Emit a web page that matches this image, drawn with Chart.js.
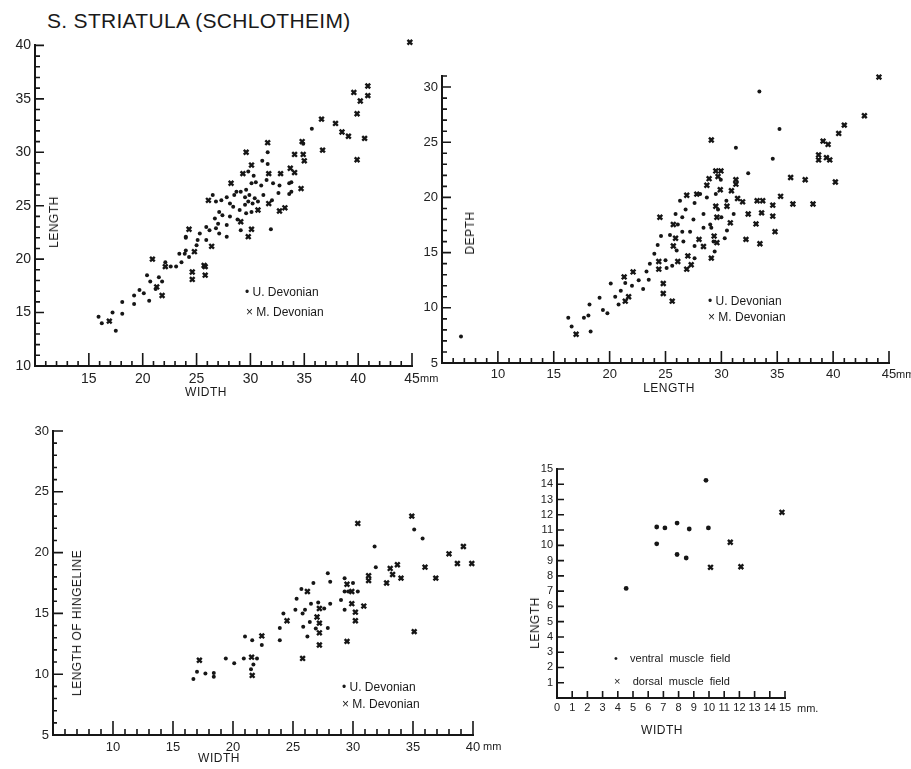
<!DOCTYPE html>
<html>
<head>
<meta charset="utf-8">
<script src="https://cdn.jsdelivr.net/npm/chart.js@4.4.1/dist/chart.umd.min.js"></script>
<style>
  html, body { margin: 0; padding: 0; background: #fff; overflow: hidden; }
  body { width: 911px; height: 769px; position: relative; font-family: "Liberation Sans", Arial, sans-serif; color: #1a1a1a; }
  canvas { position: absolute; }
  .lbl { position: absolute; transform: translate(-50%, -50%); font-size: 12px; white-space: nowrap; letter-spacing: 0.5px; }
  .rot { transform: translate(-50%, -50%) rotate(-90deg); }
  .leg { position: absolute; transform: translateY(-50%); font-size: 12px; white-space: nowrap; }
  .mm { position: absolute; transform: translateY(-50%); font-size: 11px; white-space: nowrap; }
  #title { position: absolute; left: 47px; top: 9px; font-size: 21px; letter-spacing: 0.3px; }
</style>
</head>
<body>
<div id="title">S. STRIATULA (SCHLOTHEIM)</div>

<canvas id="c1" width="447" height="373" style="left:-5px;top:33px"></canvas>
<canvas id="c2" width="509" height="339" style="left:402px;top:64px"></canvas>
<canvas id="c3" width="490" height="356" style="left:13px;top:419px"></canvas>
<canvas id="c4" width="298" height="281" style="left:517px;top:457px"></canvas>

<div class="lbl rot" style="left:54px;top:222px">LENGTH</div>
<div class="lbl" style="left:206px;top:392px">WIDTH</div>
<div class="mm" style="left:420px;top:378px">mm</div>
<div class="leg" style="left:245px;top:292px">•&nbsp;U. Devonian</div>
<div class="leg" style="left:246px;top:312px">×&nbsp;M. Devonian</div>

<div class="lbl rot" style="left:470px;top:233px">DEPTH</div>
<div class="lbl" style="left:669px;top:388px">LENGTH</div>
<div class="mm" style="left:896px;top:374px">mm</div>
<div class="leg" style="left:708px;top:301px">•&nbsp;U. Devonian</div>
<div class="leg" style="left:708px;top:317px">×&nbsp;M. Devonian</div>

<div class="lbl rot" style="left:77px;top:623px">LENGTH OF HINGELINE</div>
<div class="lbl" style="left:219px;top:758px">WIDTH</div>
<div class="mm" style="left:483px;top:746px">mm</div>
<div class="leg" style="left:342px;top:687px">•&nbsp;U. Devonian</div>
<div class="leg" style="left:342px;top:704px">×&nbsp;M. Devonian</div>

<div class="lbl rot" style="left:535px;top:623px">LENGTH</div>
<div class="lbl" style="left:662px;top:730px">WIDTH</div>
<div class="mm" style="left:797px;top:708px">mm.</div>
<div class="leg" style="left:614px;top:658px;font-size:11px">•&nbsp;&nbsp;&nbsp;&nbsp;ventral&nbsp;&nbsp;muscle&nbsp;&nbsp;field</div>
<div class="leg" style="left:614px;top:681px;font-size:11px">×&nbsp;&nbsp;&nbsp;&nbsp;dorsal&nbsp;&nbsp;muscle&nbsp;&nbsp;field</div>

<script>
// length vs width, [width, length]
var widthLengthUpper = [
  [15.9,14.6],[16.2,14.0],[17.2,15.0],[17.5,13.3],[18.1,16.0],[18.1,14.9],[19.2,16.6],[19.2,15.8],
  [19.7,17.1],[20.1,16.8],[20.6,16.1],[20.4,18.5],[20.7,17.9],[21.2,17.2],[21.5,18.3],[21.8,17.9],
  [22.1,19.7],[22.6,19.3],[23.1,19.3],[23.4,20.5],[23.6,19.7],[24.0,20.8],[24.0,22.0],
  [31.6,30.0],[31.1,29.2],[31.6,28.9],[34.9,30.8],[29.8,28.2],[30.3,27.8],[30.1,27.1],[30.5,27.2],
  [31.0,26.9],[31.5,27.4],[32.1,27.1],[32.7,26.9],[33.6,27.1],[33.8,26.3],[28.7,26.3],[29.1,26.3],
  [29.6,26.5],[28.5,26.0],[29.5,25.8],[29.9,26.0],[30.4,25.7],[29.8,25.4],[30.2,25.2],[30.7,25.4],
  [29.5,25.1],[29.0,24.6],[29.6,24.3],[30.1,24.4],[28.4,24.9],[28.1,25.2],[27.3,25.5],[26.8,25.4],
  [26.5,26.0],[27.8,25.8],[27.1,24.4],[27.4,24.1],[28.1,24.0],[26.7,23.8],[27.0,23.3],[27.8,23.2],
  [28.8,23.7],[26.8,22.9],[27.1,22.4],[27.8,22.1],[29.1,22.7],[25.9,23.0],[26.2,22.7],[25.3,22.4],
  [25.1,21.8],[25.9,21.8],[24.0,22.1],[25.0,21.3],[23.9,20.5],[24.3,20.2],[31.9,22.8],
  [35.7,32.2],[33.6,26.1],[33.8,27.2],[32.6,26.2],[32.0,25.5],[31.2,26.0]
];
var widthLengthMiddle = [
  [44.8,40.3],[39.6,35.6],[40.2,34.8],[40.9,36.2],[40.9,35.3],[39.9,33.6],[40.6,31.3],[39.9,29.3],
  [37.9,32.7],[38.5,31.9],[39.1,31.5],[36.6,33.1],[36.7,30.2],[34.8,31.0],[34.9,29.8],[35.0,29.2],
  [31.6,30.9],[29.6,30.0],[34.1,29.8],[30.1,28.8],[29.3,28.0],[31.7,28.0],[32.8,28.0],[33.7,28.5],
  [34.1,28.1],[28.2,27.1],[34.7,26.6],[26.1,25.5],[31.7,25.2],[32.7,24.5],[33.2,24.8],[30.7,24.6],
  [29.1,23.5],[30.1,22.8],[29.8,22.1],[24.3,22.8],[26.4,21.2],[24.8,20.7],[25.7,19.4],
  [16.9,14.2],[20.9,20.0],[21.8,16.6],[22.1,19.3],[24.6,18.8],[24.6,18.1],[25.8,19.3],[25.8,18.5],[21.3,17.4]
];

// depth vs length, [length, depth]
var lengthDepthUpper = [
  [33.4,29.6],[35.2,26.2],[31.3,24.5],[34.6,23.5],[32.4,22.2],[6.7,7.4],[16.3,9.1],[16.6,8.3],
  [17.7,9.1],[18.1,9.3],[18.2,10.3],[18.3,7.85],[19.4,9.8],[19.1,10.9],[20.1,12.2],[21.0,11.55],
  [20.8,10.3],[21.4,12.25],[22.6,12.5],[23.0,11.7],[23.5,12.55],[23.6,14.0],[24.0,14.9],[24.3,15.7],
  [24.6,16.5],[25.1,13.6],[25.4,16.6],[25.9,18.5],[26.1,17.55],[26.5,18.2],[26.5,16.9],[26.6,16.0],
  [26.8,18.9],[26.3,19.7],[27.2,16.9],[27.6,19.5],[27.5,18.0],[27.6,15.6],[28.1,20.3],[28.4,18.5],
  [28.7,20.0],[29.0,17.55],[28.4,17.25],[29.1,17.25],[29.5,20.3],[29.7,18.9],[30.0,18.2],[30.3,16.3],
  [30.5,17.0],[31.1,18.5],[29.4,15.1],[29.3,16.0],[29.95,21.6],[30.45,19.7],
  [25.0,14.3],[25.6,13.8],[26.0,15.2],[27.6,14.5],[23.3,13.3],[22.0,12.0],[20.5,11.0],[19.8,9.5]
];
var lengthDepthMiddle = [
  [44.1,30.9],[42.8,27.4],[41.0,26.55],[40.5,25.8],[39.1,25.1],[39.55,24.8],[38.7,23.85],[38.7,23.4],
  [39.4,23.6],[39.7,23.4],[40.2,21.4],[36.2,21.8],[37.5,21.6],[36.4,19.4],[38.2,19.4],[35.3,20.1],
  [34.6,19.3],[34.6,18.3],[34.8,16.9],[33.2,19.7],[33.7,19.7],[33.6,18.6],[33.45,15.8],[32.2,16.2],
  [32.4,18.5],[33.1,17.6],[29.1,25.2],[29.5,22.4],[29.96,22.4],[29.7,21.9],[28.9,21.7],[28.7,21.1],
  [31.3,21.6],[31.3,21.2],[30.9,20.6],[31.45,19.9],[31.9,19.6],[29.9,20.7],[29.5,19.2],[30.5,19.2],
  [30.8,17.7],[29.6,18.2],[29.35,16.5],[29.6,15.9],[29.1,14.5],[28.4,15.55],[28.0,16.2],[26.9,20.2],
  [27.8,20.3],[24.5,18.2],[25.7,17.55],[25.9,16.3],[25.7,15.6],[27.0,14.7],[26.9,13.5],[27.3,13.9],
  [26.1,14.2],[24.4,14.2],[24.4,13.5],[24.8,12.2],[24.8,11.3],[25.6,10.6],[22.1,13.25],[21.3,12.8],
  [21.7,11.0],[21.4,10.6],[17.0,7.6]
];

// hingeline vs width, [width, hingeline]
var widthHingeUpper = [
  [35.1,21.9],[35.8,21.15],[31.8,20.5],[31.9,18.8],[27.9,18.3],[28.1,17.6],[29.3,17.9],[29.6,16.8],
  [30.4,16.8],[26.7,17.5],[25.7,17.0],[25.3,16.2],[25.2,15.3],[24.2,15.0],[23.9,13.8],[23.9,12.8],
  [25.8,15.0],[26.0,15.3],[26.4,14.3],[26.5,15.8],[25.85,13.9],[26.2,13.1],[26.9,13.75],[27.1,15.9],
  [27.6,15.4],[28.1,15.8],[27.9,13.8],[29.0,16.1],[29.3,15.3],[29.3,16.8],[30.0,17.5],
  [21.0,13.1],[20.9,11.3],[19.4,11.3],[20.1,10.9],[21.6,12.8],[22.0,11.3],[21.7,10.8],[21.5,10.4],
  [22.4,12.4],[16.7,9.6],[17.0,10.2],[17.7,10.05],[18.4,10.1],[18.4,9.8]
];
var widthHingeMiddle = [
  [34.9,23.0],[30.4,22.4],[39.2,20.5],[38.0,19.9],[38.7,19.1],[39.9,19.1],[36.0,18.8],[36.9,17.9],
  [33.7,19.0],[33.1,18.7],[33.3,18.2],[34.0,17.9],[32.8,17.5],[31.3,18.1],[31.3,17.7],[30.9,15.6],
  [35.1,13.5],[29.5,17.4],[29.9,16.8],[29.9,15.8],[30.2,15.1],[30.2,14.4],[29.5,12.7],[27.2,15.4],
  [27.0,14.7],[27.2,14.2],[27.2,13.4],[27.2,12.4],[26.2,16.8],[24.5,14.4],[25.8,11.3],[22.4,13.15],
  [21.55,11.4],[21.6,9.9],[17.2,11.15]
];

// muscle field length vs width
var ventralField = [[9.8,14.26],[6.56,11.2],[7.1,11.14],[7.9,11.46],[8.7,11.07],[9.96,11.14],[6.56,10.1],[7.9,9.4],[8.5,9.17],[4.55,7.18]];
var dorsalField = [[10.1,8.56],[11.4,10.2],[12.1,8.6],[14.8,12.16]];

var ink = '#161616';

function toPts(arr) {
    return arr.map(function (p) { return { x: p[0], y: p[1] }; });
}

// tick marks drawn inward from the axes, using the chart scales
var tickMarks = {
    id: 'tickMarks',
    afterDatasetsDraw: function (chart, args, o) {
        var ctx = chart.ctx, xs = chart.scales.x, ys = chart.scales.y, a = chart.chartArea;
        ctx.save();
        ctx.strokeStyle = ink;
        ctx.lineWidth = 1.6;
        ctx.beginPath();
        for (var v = xs.min; v <= xs.max + 1e-6; v += o.xStep) {
            var px = xs.getPixelForValue(v);
            var len = Math.abs(v % o.major) < 1e-6 ? o.xMajor : o.xMinor;
            ctx.moveTo(px, a.bottom);
            ctx.lineTo(px, a.bottom - len);
        }
        for (var w = ys.min; w <= ys.max + 1e-6; w += o.yStep) {
            var py = ys.getPixelForValue(w);
            var ln = Math.abs(w % o.major) < 1e-6 ? o.yMajor : o.yMinor;
            ctx.moveTo(a.left, py);
            ctx.lineTo(a.left + ln, py);
        }
        ctx.stroke();
        ctx.restore();
    }
};

function makeChart(id, cfg) {
    var dotSet = {
        label: cfg.dotLabel, data: toPts(cfg.dots), pointStyle: 'circle',
        pointRadius: cfg.dotR || 2.0, backgroundColor: ink, borderColor: ink, borderWidth: 0, clip: false
    };
    var crossSet = {
        label: cfg.crossLabel, data: toPts(cfg.crosses), pointStyle: 'crossRot',
        pointRadius: cfg.crossR || 3.3, borderColor: ink, borderWidth: 2.4, clip: false
    };
    return new Chart(document.getElementById(id), {
        type: 'scatter',
        data: { datasets: [dotSet, crossSet] },
        options: {
            responsive: false,
            animation: false,
            devicePixelRatio: 1,
            layout: { padding: { left: 0, top: 12, right: cfg.padRight, bottom: 0 } },
            plugins: { legend: { display: false }, tooltip: { enabled: false }, tickMarks: cfg.ticks },
            scales: {
                x: {
                    type: 'linear', min: cfg.xMin, max: cfg.xMax,
                    grid: { display: true, drawOnChartArea: false, drawTicks: false },
                    border: { display: true, color: ink, width: 2 },
                    ticks: {
                        stepSize: cfg.xLabelStep, padding: cfg.xPad, color: '#222', maxRotation: 0,
                        autoSkip: false, includeBounds: false,
                        font: { family: 'Liberation Sans', size: cfg.fontSize },
                        callback: cfg.xLabel
                    },
                    afterFit: function (s) { s.height = 40; }
                },
                y: {
                    type: 'linear', min: cfg.yMin, max: cfg.yMax,
                    grid: { display: true, drawOnChartArea: false, drawTicks: false },
                    border: { display: true, color: ink, width: 2 },
                    ticks: {
                        stepSize: cfg.yLabelStep, padding: 4, color: '#222',
                        autoSkip: false, includeBounds: false,
                        font: { family: 'Liberation Sans', size: cfg.fontSize },
                        callback: cfg.yLabel
                    },
                    afterFit: function (s) { s.width = 40; }
                }
            }
        },
        plugins: [tickMarks]
    });
}

function every5Skip(min) {
    return function (v) { return (v === min || v % 5 !== 0) ? '' : v; };
}
function every5(v) { return v % 5 === 0 ? v : ''; }

makeChart('c1', {
    dots: widthLengthUpper, crosses: widthLengthMiddle, dotLabel: 'U. Devonian', crossLabel: 'M. Devonian',
    xMin: 10, xMax: 45, yMin: 10, yMax: 40, xLabelStep: 5, yLabelStep: 5, fontSize: 14, xPad: 5, padRight: 30,
    xLabel: every5Skip(10), yLabel: every5,
    ticks: { xStep: 1, yStep: 1, major: 5, xMajor: 13, xMinor: 5, yMajor: 9, yMinor: 5 }
});

makeChart('c2', {
    dots: lengthDepthUpper, crosses: lengthDepthMiddle, dotLabel: 'U. Devonian', crossLabel: 'M. Devonian',
    xMin: 5, xMax: 45, yMin: 5, yMax: 31, xLabelStep: 5, yLabelStep: 5, fontSize: 13, xPad: 4, padRight: 22,
    xLabel: every5Skip(5), yLabel: every5,
    ticks: { xStep: 1, yStep: 1, major: 5, xMajor: 12, xMinor: 5, yMajor: 9, yMinor: 5 }
});

makeChart('c3', {
    dots: widthHingeUpper, crosses: widthHingeMiddle, dotLabel: 'U. Devonian', crossLabel: 'M. Devonian',
    xMin: 5, xMax: 40, yMin: 5, yMax: 30, xLabelStep: 5, yLabelStep: 5, fontSize: 13, xPad: 5, padRight: 30,
    xLabel: every5Skip(5), yLabel: every5,
    ticks: { xStep: 1, yStep: 1, major: 5, xMajor: 14, xMinor: 6, yMajor: 10, yMinor: 4 }
});

makeChart('c4', {
    dots: ventralField, crosses: dorsalField, dotLabel: 'ventral muscle field', crossLabel: 'dorsal muscle field',
    xMin: 0, xMax: 15, yMin: 0, yMax: 15, xLabelStep: 1, yLabelStep: 1, fontSize: 11, xPad: 3, padRight: 30,
    dotR: 2.4, crossR: 3.3,
    xLabel: function (v) { return v; }, yLabel: function (v) { return v === 0 ? '' : v; },
    ticks: { xStep: 1, yStep: 1, major: 1, xMajor: 7, xMinor: 7, yMajor: 7, yMinor: 7 }
});
</script>
</body>
</html>
